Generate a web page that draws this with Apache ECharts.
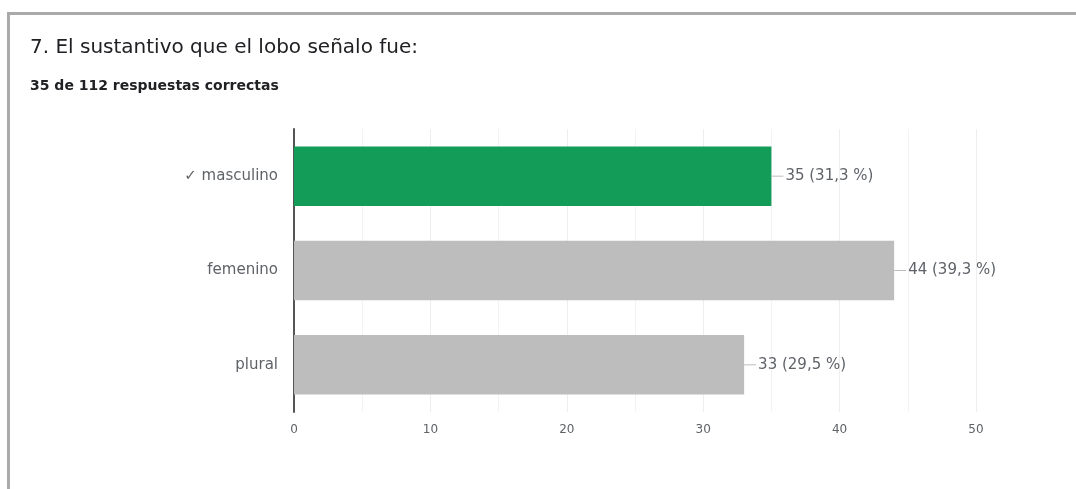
<!DOCTYPE html>
<html><head><meta charset="utf-8">
<script src="https://cdn.jsdelivr.net/npm/echarts@6/dist/echarts.min.js"></script>
<style>html,body{margin:0;padding:0;background:#fff}#c{width:1076px;height:489px}</style>
</head><body><div id="c"></div>
<script>
const categories = ['✓ masculino', 'femenino', 'plural'];
const counts = [35, 44, 33];
const percents = ['31,3', '39,3', '29,5'];
const barColors = ['#129c57', '#bdbdbd', '#bdbdbd'];
const xTicks = [0, 10, 20, 30, 40, 50];
const titleText = '7. El sustantivo que el lobo señalo fue:';
const subtitleText = '35 de 112 respuestas correctas';

const FONT = '"DejaVu Sans"';
const chart = echarts.init(document.getElementById('c'), null, {renderer: 'canvas'});
chart.setOption({
  animation: false,
  backgroundColor: '#fff',
  graphic: [
    {type: 'rect', shape: {x: 7, y: 12, width: 1069, height: 3}, style: {fill: '#aaaaaa'}},
    {type: 'rect', shape: {x: 7, y: 12, width: 3, height: 477}, style: {fill: '#aaaaaa'}}
  ],
  title: [
    {text: titleText, left: 25, top: 33, textStyle: {fontFamily: FONT, fontSize: 20, fontWeight: 'normal', color: '#202124'}},
    {text: subtitleText, left: 25, top: 74, textStyle: {fontFamily: FONT, fontSize: 14, fontWeight: 'bold', color: '#202124'}}
  ],
  grid: {left: 294, right: 100, top: 129, bottom: 77, containLabel: false},
  xAxis: {
    type: 'value', min: xTicks[0], max: xTicks[xTicks.length - 1], interval: 10,
    axisLine: {show: false}, axisTick: {show: false},
    axisLabel: {color: '#5f6368', fontFamily: FONT, fontSize: 12, margin: 12},
    splitLine: {show: true, lineStyle: {color: '#eeeeee', width: 1}},
    minorTick: {show: false, splitNumber: 2},
    minorSplitLine: {show: true, lineStyle: {color: '#f3f3f3', width: 1}}
  },
  yAxis: {
    type: 'category', data: categories, inverse: true,
    axisLine: {show: true, lineStyle: {color: '#555555', width: 2}},
    axisTick: {show: false},
    axisLabel: {color: '#5f6368', fontFamily: FONT, fontSize: 15, margin: 16}
  },
  series: [{
    type: 'bar',
    barCategoryGap: '37%',
    data: counts.map((v, i) => ({value: v, itemStyle: {color: barColors[i]}})),
    label: {
      show: true, position: 'right', distance: 0,
      formatter: p => '{l|}{t|' + counts[p.dataIndex] + ' (' + percents[p.dataIndex] + ' %)}',
      rich: {
        l: {width: 12, height: 1, backgroundColor: '#bdbdbd'},
        t: {color: '#5f6368', fontFamily: FONT, fontSize: 15, padding: [0, 0, 0, 2]}
      }
    }
  }]
});
</script></body></html>
